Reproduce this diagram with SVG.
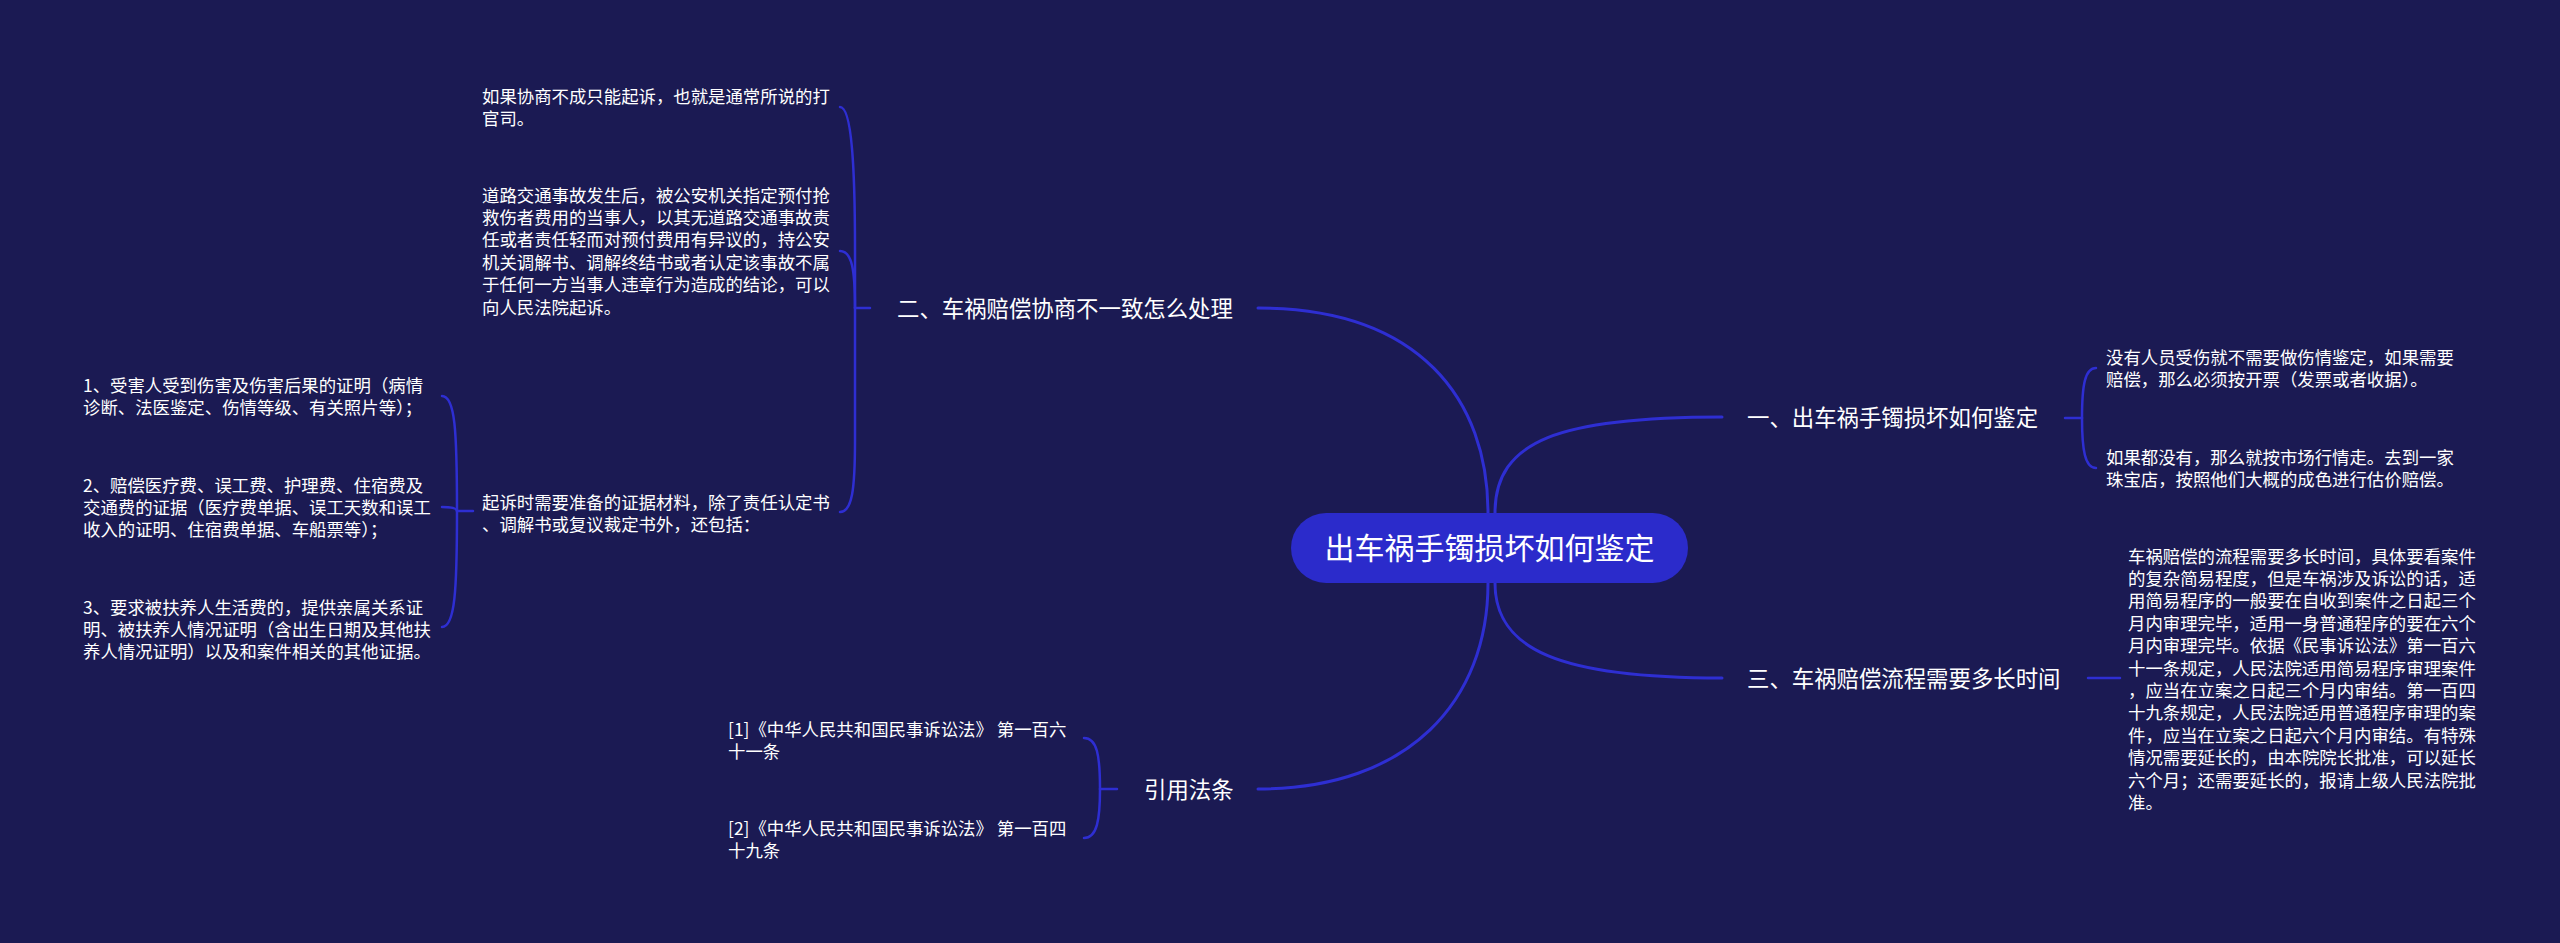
<svg xmlns="http://www.w3.org/2000/svg" width="2560" height="943" viewBox="0 0 2560 943">
<style>
.t{font-family:"Noto Sans CJK SC","Noto Sans",sans-serif;fill:#ffffff}
.s{font-size:17.4px}
.b{font-size:22.4px}
.r{font-size:30px}
.c{fill:none;stroke:#2e2ed2;stroke-width:3;stroke-linecap:round}
.k{fill:none;stroke:#2e2ed2;stroke-width:2.5;stroke-linecap:round}
</style>
<rect width="2560" height="943" fill="#1b1a53"/>
<g id="connectors">
<path class="c" d="M1488 513 C1488 400 1420 308 1258 308"/>
<path class="c" d="M1495 513 C1495 440 1560 417 1722 417"/>
<path class="c" d="M1495 583 C1495 650 1560 678 1722 678"/>
<path class="c" d="M1488 583 C1488 700 1410 789 1258 789"/>
<path class="k" d="M870 308 H855"/>
<path class="k" d="M855 308 L855 250 C855 170 852 107 840 107"/>
<path class="k" d="M855 308 C855 270 852 251 840 251"/>
<path class="k" d="M855 308 L855 440 C855 490 852 512 840 512"/>
<path class="k" d="M473 511 H457"/>
<path class="k" d="M457 511 C457 430 455 396 442 396"/>
<path class="k" d="M457 511 C457 508 452 507 442 507"/>
<path class="k" d="M457 511 C457 590 455 627 442 627"/>
<path class="k" d="M1117 789 H1100"/>
<path class="k" d="M1100 789 C1100 755 1097 738 1084 738"/>
<path class="k" d="M1100 789 C1100 820 1097 838 1084 838"/>
<path class="k" d="M2065 418 H2082"/>
<path class="k" d="M2082 418 C2082 385 2085 368 2096 368"/>
<path class="k" d="M2082 418 C2082 450 2085 468 2096 468"/>
<path class="k" d="M2088 678 H2120"/>
</g>
<g id="root">
<rect x="1291" y="513" width="397" height="70" rx="35" fill="#2b2bcb"/>
<text class="t r" x="1489.5" y="559" text-anchor="middle">出车祸手镯损坏如何鉴定</text>
</g>
<g id="b1"><text class="t b" x="1747" y="425.5">一、出车祸手镯损坏如何鉴定</text></g>
<g id="b2"><text class="t b" x="897" y="316.5">二、车祸赔偿协商不一致怎么处理</text></g>
<g id="b3"><text class="t b" x="1747" y="686.5">三、车祸赔偿流程需要多长时间</text></g>
<g id="b4"><text class="t b" x="1144" y="797.5">引用法条</text></g>
<g id="b1c1"><text class="t s" x="2106"><tspan x="2106" y="363.6">没有人员受伤就不需要做伤情鉴定，如果需要</tspan><tspan x="2106" y="386">赔偿，那么必须按开票（发票或者收据）。</tspan></text></g>
<g id="b1c2"><text class="t s" x="2106"><tspan x="2106" y="463.6">如果都没有，那么就按市场行情走。去到一家</tspan><tspan x="2106" y="486">珠宝店，按照他们大概的成色进行估价赔偿。</tspan></text></g>
<g id="b3c1"><text class="t s">
<tspan x="2128" y="562.6">车祸赔偿的流程需要多长时间，具体要看案件</tspan>
<tspan x="2128" y="585">的复杂简易程度，但是车祸涉及诉讼的话，适</tspan>
<tspan x="2128" y="607.4">用简易程序的一般要在自收到案件之日起三个</tspan>
<tspan x="2128" y="629.8">月内审理完毕，适用一身普通程序的要在六个</tspan>
<tspan x="2128" y="652.2">月内审理完毕。依据《民事诉讼法》第一百六</tspan>
<tspan x="2128" y="674.6">十一条规定，人民法院适用简易程序审理案件</tspan>
<tspan x="2128" y="697">，应当在立案之日起三个月内审结。第一百四</tspan>
<tspan x="2128" y="719.4">十九条规定，人民法院适用普通程序审理的案</tspan>
<tspan x="2128" y="741.8">件，应当在立案之日起六个月内审结。有特殊</tspan>
<tspan x="2128" y="764.2">情况需要延长的，由本院院长批准，可以延长</tspan>
<tspan x="2128" y="786.6">六个月；还需要延长的，报请上级人民法院批</tspan>
<tspan x="2128" y="809">准。</tspan>
</text></g>
<g id="b2c1"><text class="t s"><tspan x="482" y="102.6">如果协商不成只能起诉，也就是通常所说的打</tspan><tspan x="482" y="125">官司。</tspan></text></g>
<g id="b2c2"><text class="t s">
<tspan x="482" y="201.6">道路交通事故发生后，被公安机关指定预付抢</tspan>
<tspan x="482" y="224">救伤者费用的当事人，以其无道路交通事故责</tspan>
<tspan x="482" y="246.4">任或者责任轻而对预付费用有异议的，持公安</tspan>
<tspan x="482" y="268.8">机关调解书、调解终结书或者认定该事故不属</tspan>
<tspan x="482" y="291.2">于任何一方当事人违章行为造成的结论，可以</tspan>
<tspan x="482" y="313.6">向人民法院起诉。</tspan>
</text></g>
<g id="b2c3"><text class="t s"><tspan x="482" y="508.6">起诉时需要准备的证据材料，除了责任认定书</tspan><tspan x="482" y="531">、调解书或复议裁定书外，还包括：</tspan></text></g>
<g id="b2c3i1"><text class="t s"><tspan x="83" y="391.6">1、受害人受到伤害及伤害后果的证明（病情</tspan><tspan x="83" y="414">诊断、法医鉴定、伤情等级、有关照片等）；</tspan></text></g>
<g id="b2c3i2"><text class="t s"><tspan x="83" y="491.6">2、赔偿医疗费、误工费、护理费、住宿费及</tspan><tspan x="83" y="514">交通费的证据（医疗费单据、误工天数和误工</tspan><tspan x="83" y="536.4">收入的证明、住宿费单据、车船票等）；</tspan></text></g>
<g id="b2c3i3"><text class="t s"><tspan x="83" y="613.6">3、要求被扶养人生活费的，提供亲属关系证</tspan><tspan x="83" y="636">明、被扶养人情况证明（含出生日期及其他扶</tspan><tspan x="83" y="658.4">养人情况证明）以及和案件相关的其他证据。</tspan></text></g>
<g id="b4c1"><text class="t s"><tspan x="728" y="735.6">[1]《中华人民共和国民事诉讼法》 第一百六</tspan><tspan x="728" y="758">十一条</tspan></text></g>
<g id="b4c2"><text class="t s"><tspan x="728" y="834.6">[2]《中华人民共和国民事诉讼法》 第一百四</tspan><tspan x="728" y="857">十九条</tspan></text></g>
</svg>
